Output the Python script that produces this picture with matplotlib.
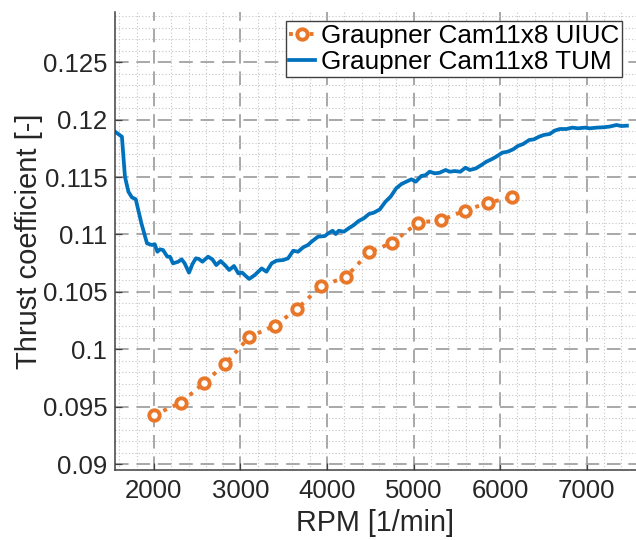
import matplotlib
matplotlib.use("Agg")
import matplotlib.pyplot as plt
from matplotlib.ticker import MultipleLocator

plt.rcParams['font.family'] = ['Liberation Sans', 'DejaVu Sans']

# UIUC measurements (markers)
rpm_uiuc = [2000, 2310, 2580, 2820, 3100, 3395, 3650, 3935, 4215, 4485, 4755,
            5050, 5320, 5590, 5860, 6140]
ct_uiuc = [0.09427, 0.09534, 0.09708, 0.09868, 0.10106, 0.10205, 0.10348, 0.10553,
           0.10626, 0.10844, 0.10928, 0.11102, 0.11125, 0.11206, 0.11276, 0.11323]

# TUM test stand sweep
rpm_tum = [1550, 1630, 1665, 1705, 1745, 1790, 1855, 1920, 1975, 2010, 2040, 2070,
           2105, 2155, 2185, 2220, 2280, 2320, 2355, 2405, 2445, 2485, 2520, 2560,
           2625, 2675, 2720, 2770, 2820, 2870, 2925, 2975, 3020, 3070, 3100, 3165,
           3245, 3300, 3360, 3415, 3495, 3550, 3610, 3665, 3725, 3780, 3820, 3895,
           3975, 4015, 4065, 4100, 4135, 4195, 4250, 4310, 4365, 4425, 4485, 4540,
           4610, 4675, 4735, 4800, 4860, 4915, 4975, 5025, 5090, 5140, 5185, 5245,
           5300, 5370, 5420, 5475, 5540, 5600, 5650, 5720, 5785, 5840, 5900, 5955,
           6025, 6090, 6150, 6205, 6265, 6335, 6390, 6450, 6505, 6575, 6630, 6690,
           6765, 6835, 6900, 6980, 7035, 7115, 7190, 7265, 7345, 7400, 7465]
ct_tum = [0.11895, 0.11851, 0.11503, 0.11372, 0.11323, 0.11306, 0.11097, 0.10922,
          0.10908, 0.10914, 0.10849, 0.10870, 0.10864, 0.10806, 0.10806, 0.10748,
          0.10762, 0.10783, 0.10748, 0.10667, 0.10742, 0.10792, 0.10786, 0.10762,
          0.10806, 0.10783, 0.10733, 0.10768, 0.10733, 0.10690, 0.10725, 0.10661,
          0.10667, 0.10632, 0.10612, 0.10646, 0.10704, 0.10675, 0.10748, 0.10771,
          0.10777, 0.10792, 0.10858, 0.10849, 0.10888, 0.10908, 0.10936, 0.10980,
          0.10986, 0.11010, 0.11032, 0.11003, 0.11032, 0.11024, 0.11053, 0.11082,
          0.11117, 0.11140, 0.11178, 0.11189, 0.11218, 0.11285, 0.11329, 0.11402,
          0.11439, 0.11459, 0.11480, 0.11459, 0.11509, 0.11517, 0.11546, 0.11532,
          0.11537, 0.11561, 0.11546, 0.11552, 0.11546, 0.11581, 0.11561, 0.11575,
          0.11605, 0.11633, 0.11654, 0.11677, 0.11712, 0.11721, 0.11741, 0.11770,
          0.11787, 0.11822, 0.11828, 0.11851, 0.11866, 0.11875, 0.11904, 0.11918,
          0.11918, 0.11930, 0.11924, 0.11930, 0.11924, 0.11930, 0.11933, 0.11939,
          0.11953, 0.11944, 0.11947]

txt = '#262626'
fig = plt.figure(figsize=(6.36, 5.40), dpi=100)
ax = fig.add_axes([0.1808, 0.1296, 0.8192, 0.8488])

ax.plot(rpm_uiuc, ct_uiuc, ':', color='#E8772A', lw=2.8, marker='o', ms=7.5,
        mec='#E8772A', mfc='white', mew=2.8, label='Graupner Cam11x8 UIUC')
ax.plot(rpm_tum, ct_tum, '-', color='#0072BD', lw=2.7, label='Graupner Cam11x8 TUM')

ax.set_xlim(1550, 7570)
ax.set_ylim(0.08948, 0.1294)
ax.xaxis.set_major_locator(MultipleLocator(1000))
ax.xaxis.set_minor_locator(MultipleLocator(200))
ax.yaxis.set_major_locator(MultipleLocator(0.005))
ax.yaxis.set_minor_locator(MultipleLocator(0.001))
ax.yaxis.set_major_formatter(plt.FuncFormatter(lambda v, p: f'{v:g}'))

ax.grid(which='major', color='#a8a8a8', ls=(0, (7, 4)), lw=1.4)
ax.grid(which='minor', color='#c4c4c4', ls=(0, (1, 2)), lw=0.8)
ax.set_axisbelow(True)

for s in ['top', 'right']:
    ax.spines[s].set_visible(False)
for s in ['left', 'bottom']:
    ax.spines[s].set_color('#404040')
    ax.spines[s].set_linewidth(1.1)

ax.tick_params(which='major', direction='in', length=5, width=0.9, color='#404040',
               labelsize=18.5, labelcolor=txt)
ax.tick_params(axis='y', pad=5.5)
ax.tick_params(axis='x', pad=6.5)
ax.tick_params(which='minor', length=0)

ax.set_xlabel('RPM [1/min]', fontsize=20.7, color=txt, labelpad=4)
ax.set_ylabel('Thrust coefficient [-]', fontsize=21, color=txt, labelpad=0)

leg = ax.legend(loc='upper right', bbox_to_anchor=(0.973, 0.980), borderaxespad=0,
                fontsize=18.8, handlelength=1.0, handletextpad=0.2, labelspacing=0.08,
                borderpad=0.12, fancybox=False, framealpha=1, edgecolor='#404040')
leg.get_frame().set_linewidth(1.0)
for t in leg.get_texts():
    t.set_color('black')

fig.savefig('out.png', dpi=100)
